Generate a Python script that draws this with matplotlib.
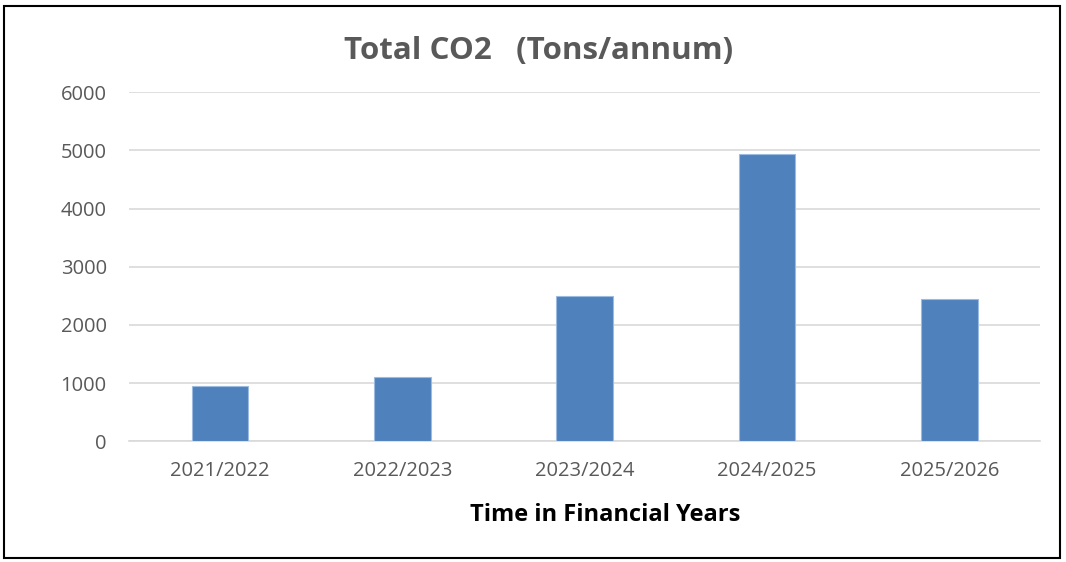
import matplotlib.pyplot as plt
from matplotlib.patches import Rectangle

# Data
years = ["2021/2022", "2022/2023", "2023/2024", "2024/2025", "2025/2026"]
co2_tons = [940, 1095, 2490, 4945, 2440]
y_ticks = [0, 1000, 2000, 3000, 4000, 5000, 6000]

plt.rcParams['font.family'] = ['Open Sans', 'DejaVu Sans']

fig = plt.figure(figsize=(10.66, 5.62), dpi=100)
ax = fig.add_axes([0.121, 0.215, 0.855, 0.621])

x = range(len(years))
ax.bar(x, co2_tons, width=0.31, color="#4f81bd", edgecolor="#9dbbe0", linewidth=0.8, zorder=3)

ax.set_xlim(-0.5, len(years) - 0.5)
ax.set_ylim(0, 6000)
ax.set_yticks(y_ticks)
ax.set_xticks(list(x))
ax.set_xticklabels(years)
ax.grid(axis='y', color="#d9d9d9", linewidth=1.2, zorder=0)
for side in ['top', 'right', 'left']:
    ax.spines[side].set_visible(False)
ax.spines['bottom'].set_color("#d9d9d9")
ax.spines['bottom'].set_linewidth(1.2)
ax.tick_params(axis='both', length=0, labelsize=14.5, colors="#595959")
ax.tick_params(axis='x', pad=14)
ax.tick_params(axis='y', pad=16)

ax.set_xlabel("Time in Financial Years", fontsize=17, fontweight='bold', color="black")
ax.xaxis.set_label_coords(0.522, -0.212)
ax.xaxis.label.set_va('center')
fig.text(0.505, 0.91, "Total CO2   (Tons/annum)", ha='center', va='center',
         fontsize=22.5, fontweight='bold', color="#595959")

# outer frame around the chart
fig.patches.append(Rectangle((0.004, 0.007), 0.99, 0.982, transform=fig.transFigure,
                             fill=False, edgecolor="black", linewidth=1.5))

plt.savefig("out.png", dpi=100)
plt.close()
